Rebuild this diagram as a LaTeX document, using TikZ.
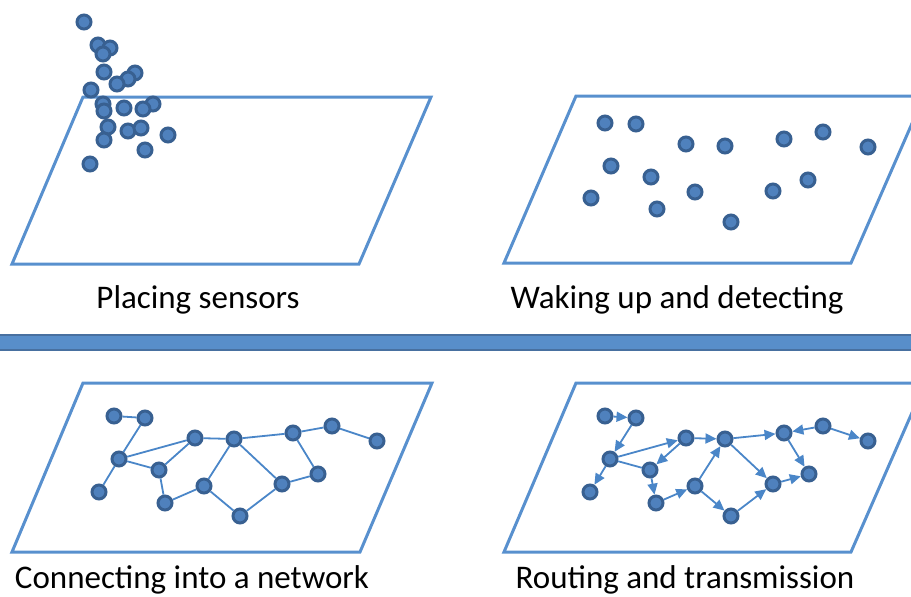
\documentclass[tikz,border=0pt]{standalone}
\usepackage{fontspec}
\setmainfont{Carlito}
\usetikzlibrary{arrows.meta}

\definecolor{planeblue}{RGB}{88,144,206}
\definecolor{dotfill}{RGB}{79,129,189}
\definecolor{dotline}{RGB}{56,96,145}
\definecolor{linkblue}{RGB}{74,134,200}
\definecolor{barfill}{RGB}{88,142,202}
\definecolor{barline}{RGB}{72,112,160}

\tikzset{
    plane/.style={draw=planeblue, line width=3pt, line join=miter},
    sensor/.style={circle, fill=dotfill, draw=dotline, line width=3pt, minimum size=14pt, inner sep=0pt},
    link/.style={draw=linkblue, line width=1.8pt},
    hop/.style={link, -{Triangle[length=11pt, width=10pt]}},
    caption/.style={anchor=base, font=\fontsize{33}{38}\selectfont, inner sep=0pt}
}

\begin{document}
\begin{tikzpicture}[x=1pt, y=-1pt]
    \useasboundingbox (0,0) rectangle (911,597);
    \clip (0,0) rectangle (911,597);

    % planes
    \draw[plane] (83,97) -- (431,97) -- (359,264) -- (12,264) -- cycle;
    \draw[plane] (576,96) -- (924,96) -- (851,263) -- (504,263) -- cycle;
    \draw[plane] (83,383) -- (432,383) -- (360,552) -- (12,552) -- cycle;
    \draw[plane] (576,383) -- (925,383) -- (851,552) -- (504,552) -- cycle;

    % separator bar
    \draw[fill=barfill, draw=barline, line width=2.5pt] (-5,335) rectangle (916,350);

    % placing sensors (dropped in a heap)
    \foreach \x/\y [count=\i] in {84/22, 98/45, 110/48, 103/54, 104/72, 135/73, 128/79, 117/84,
        91/90, 103/104, 104/111, 124/108, 153/104, 143/109, 108/127, 128/131, 141/128,
        168/135, 104/140, 145/150, 90/164}
        \node[sensor] (place\i) at (\x,\y) {};

    % waking up (spread out)
    \foreach \x/\y [count=\i] in {605/123, 636/124, 686/144, 725/146, 784/139, 823/132, 868/147,
        611/166, 651/177, 695/192, 773/191, 808/180, 591/198, 657/209, 731/222}
        \node[sensor] (wake\i) at (\x,\y) {};

    % connecting into a network
    \foreach \n/\x/\y in {a/114/416, b/145/418, c/195/438, d/234/439, e/293/433, f/332/426,
        g/377/441, h/119/459, i/159/470, j/204/486, k/282/484, l/318/474, m/99/492,
        n/165/503, o/240/516}
        \node[sensor] (net\n) at (\x,\y) {};
    \foreach \u/\v in {a/b, b/h, h/m, h/c, h/i, i/c, i/n, n/j, j/d, c/d, d/e, e/f, f/g,
        d/k, j/o, o/k, k/l, l/e}
        \draw[link] (net\u) -- (net\v);

    % routing and transmission
    \begin{scope}[xshift=491]
        \foreach \n/\x/\y in {a/114/416, b/145/418, c/195/438, d/234/439, e/293/433, f/332/426,
            g/377/441, h/119/459, i/159/470, j/204/486, k/282/484, l/318/474, m/99/492,
            n/165/503, o/240/516}
            \node[sensor] (route\n) at (\x,\y) {};
    \end{scope}
    \draw[link] (routeh) -- (routei);
    \foreach \u/\v in {a/b, b/h, h/m, h/c, c/i, i/n, n/j, j/d, c/d, d/e, f/e, f/g,
        d/k, j/o, o/k, k/l, e/l}
        \draw[hop] (route\u) -- (route\v);

    % captions
    \node[caption] (lab1) at (198,308) {Placing sensors};
    \node[caption] (lab2) at (677,308) {Waking up and detecting};
    \node[caption] (lab3) at (192,588) {Connecting into a network};
    \node[caption] (lab4) at (685,588) {Routing and transmission};
\end{tikzpicture}
\end{document}
